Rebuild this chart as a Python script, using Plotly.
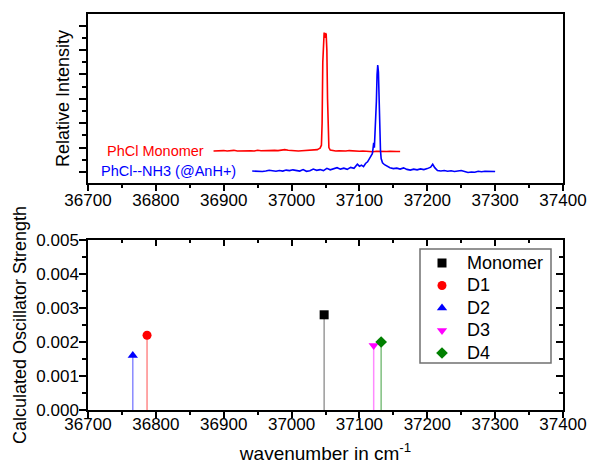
import plotly.graph_objects as go

# --- верхняя панель: спектры ---
red_x = [36885, 36890, 36895, 36900, 36905, 36910, 36915, 36920, 36925, 36930,
         36935, 36940, 36945, 36950, 36955, 36960, 36965, 36970, 36975, 36980,
         36985, 36990, 36995, 37000, 37005, 37010, 37015, 37020, 37025, 37030,
         37035, 37038, 37040, 37042, 37044, 37045, 37046, 37047, 37048, 37049,
         37050, 37051, 37052, 37053, 37054, 37055, 37057, 37060, 37065, 37070,
         37075, 37080, 37085, 37090, 37095, 37100, 37105, 37110, 37115, 37120,
         37125, 37130, 37135, 37140, 37145, 37150, 37155, 37160]
red_y = [0.86, 0.87, 0.85, 0.88, 0.86, 0.87, 0.89, 0.86, 0.87, 0.85,
         0.88, 0.87, 0.86, 0.89, 0.87, 0.88, 0.86, 0.87, 0.89, 0.88,
         0.90, 0.92, 0.89, 0.87, 0.88, 0.86, 0.87, 0.88, 0.87, 0.89,
         0.90, 0.92, 0.95, 0.98, 1.1, 2.0, 4.5, 5.6, 5.72, 5.5,
         5.7, 5.65, 5.0, 3.0, 1.5, 1.0, 0.9, 0.88, 0.86, 0.87,
         0.85, 0.86, 0.88, 0.86, 0.87, 0.85, 0.86, 0.84, 0.85, 0.83,
         0.85, 0.84, 0.83, 0.84, 0.85, 0.83, 0.84, 0.84]

blue_x = [36942, 36947, 36952, 36957, 36962, 36967, 36972, 36977, 36982, 36987,
          36992, 36997, 37002, 37007, 37012, 37017, 37022, 37027, 37032, 37037,
          37042, 37047, 37052, 37057, 37062, 37067, 37072, 37077, 37082, 37087,
          37092, 37097, 37100, 37103, 37106, 37109, 37112, 37115, 37117, 37119,
          37120, 37121, 37122, 37123, 37124, 37125, 37126, 37127, 37128, 37129,
          37130, 37131, 37132, 37134, 37137, 37140, 37145, 37150, 37155, 37160,
          37165, 37170, 37175, 37180, 37185, 37190, 37195, 37200, 37205, 37208,
          37211, 37215, 37220, 37225, 37230, 37235, 37240, 37245, 37250, 37255,
          37260, 37265, 37270, 37275, 37280, 37285, 37290, 37295, 37300]
blue_y = [0.04, 0.03, 0.05, 0.02, 0.04, 0.07, 0.05, 0.03, 0.06, 0.04,
          0.08, 0.06, 0.09, 0.06, 0.04, 0.10, 0.03, 0.05, 0.12, 0.07,
          0.10, 0.06, 0.15, 0.09, 0.13, 0.18, 0.12, 0.16, 0.11, 0.19,
          0.15, 0.32, 0.24, 0.28, 0.22, 0.35, 0.42, 0.55, 0.62, 0.75,
          0.95, 1.2, 1.0, 1.5, 2.2, 2.9, 4.0, 4.39, 4.1, 2.8,
          1.6, 0.9, 0.55, 0.38, 0.30, 0.25, 0.18, 0.14, 0.16, 0.12,
          0.17, 0.11, 0.08, 0.12, 0.09, 0.13, 0.10, 0.14, 0.20, 0.32,
          0.18, 0.06, 0.04, 0.06, 0.03, 0.05, 0.02, 0.04, 0.06, 0.02,
          -0.02, 0.00, -0.01, 0.03, 0.01, 0.03, 0.02, 0.03, 0.02]

# --- нижняя панель: расчётные силы осцилляторов ---
calc_names = ['Monomer', 'D1', 'D2', 'D3', 'D4']
calc_x = [37048, 36787, 36766, 37121, 37132]
calc_f = [0.0028, 0.0022, 0.0016, 0.0019, 0.0020]
calc_colors = ['black', '#ff0000', '#0000ff', '#ff00ff', '#008000']
stem_colors = ['#9a9a9a', '#ff8a8a', '#8a8aff', '#ff8aff', '#7fbf7f']
calc_symbols = ['square', 'circle', 'triangle-up', 'triangle-down', 'diamond']

FONT = 'Liberation Sans, Arial, sans-serif'

# легенда рисуется вручную (в пикселях области графика)
LEG_X0, LEG_X1, LEG_Y0, LEG_Y1 = 420, 551, 249, 363
LEG_MARK_X, LEG_TEXT_X, LEG_ROW0, LEG_STEP = 442, 465, 263, 22.5

fig = go.Figure()

fig.add_trace(go.Scatter(x=red_x, y=red_y, mode='lines', showlegend=False,
                         line=dict(color='#ff0000', width=1.6), xaxis='x', yaxis='y'))
fig.add_trace(go.Scatter(x=blue_x, y=blue_y, mode='lines', showlegend=False,
                         line=dict(color='#0000ff', width=1.6), xaxis='x', yaxis='y'))

# стебли
for xv, fv, sc in zip(calc_x, calc_f, stem_colors):
    fig.add_trace(go.Scatter(x=[xv, xv], y=[0, fv], mode='lines', showlegend=False,
                             line=dict(color=sc, width=1.5), hoverinfo='skip',
                             xaxis='x2', yaxis='y2'))
# маркеры
for name, xv, fv, c, s in zip(calc_names, calc_x, calc_f, calc_colors, calc_symbols):
    fig.add_trace(go.Scatter(x=[xv], y=[fv], mode='markers', name=name, showlegend=False,
                             marker=dict(color=c, symbol=s, size=9),
                             xaxis='x2', yaxis='y2'))

# зеркальные оси (тики внутрь)
fig.add_trace(go.Scatter(x=[None], y=[None], showlegend=False, hoverinfo='skip',
                         xaxis='x3', yaxis='y3'))

# легенда: маркеры
leg_rows = [LEG_ROW0 + LEG_STEP * i for i in range(len(calc_names))]
fig.add_trace(go.Scatter(x=[LEG_MARK_X] * len(calc_names), y=leg_rows, mode='markers',
                         showlegend=False, hoverinfo='skip',
                         marker=dict(color=calc_colors, symbol=calc_symbols, size=9),
                         xaxis='x4', yaxis='y4'))

axis_common = dict(showline=True, linecolor='black', linewidth=1.5, automargin=False,
                   tickcolor='black', tickwidth=1.5, showgrid=False, zeroline=False,
                   tickfont=dict(size=17, color='black'))

annotations = [
    dict(text='PhCl Monomer', x=36874, y=0.87, xref='x', yref='y',
         xanchor='right', yanchor='middle', showarrow=False,
         font=dict(size=14.5, color='#ff0000')),
    dict(text='PhCl--NH3 (@AnH+)', x=36921, y=0.04, xref='x', yref='y',
         xanchor='right', yanchor='middle', showarrow=False,
         font=dict(size=14.5, color='#0000ff')),
]
for name, yy in zip(calc_names, leg_rows):
    annotations.append(dict(text=name, x=LEG_TEXT_X, y=yy, xref='x4', yref='y4',
                            xanchor='left', yanchor='middle', showarrow=False,
                            font=dict(size=18, color='black')))

fig.update_layout(
    width=590, height=464,
    margin=dict(l=88, r=27, t=14, b=54),
    paper_bgcolor='white', plot_bgcolor='white',
    font=dict(family=FONT, color='black'),
    showlegend=False,
    xaxis=dict(domain=[0, 1], anchor='y', range=[36700, 37400], dtick=100,
               tickformat='d', ticks='outside', ticklen=6, mirror=True,
               ticklabelstandoff=-5,
               minor=dict(dtick=50, ticks='outside', ticklen=3, tickcolor='black'),
               **axis_common),
    yaxis=dict(domain=[0.5732, 1], anchor='x', range=[-0.45, 6.48], dtick=1,
               tick0=0, ticks='outside', ticklen=7, mirror=True, showticklabels=False,
               minor=dict(dtick=0.5, ticks='outside', ticklen=4, tickcolor='black'),
               title=dict(text='Relative Intensity', font=dict(size=18), standoff=5),
               **axis_common),
    xaxis2=dict(domain=[0, 1], anchor='y2', range=[36700, 37400], dtick=100,
                tickformat='d', ticks='outside', ticklen=6, mirror=True,
                ticklabelstandoff=-8,
                minor=dict(dtick=50, ticks='outside', ticklen=3, tickcolor='black'),
                title=dict(text='wavenumber in cm<sup>-1</sup>', font=dict(size=19),
                           standoff=16),
                **axis_common),
    yaxis2=dict(domain=[0, 0.4293], anchor='x2', range=[0, 0.005], dtick=0.001,
                tickformat='.3f', ticks='outside', ticklen=7, mirror=True,
                ticklabelstandoff=-3,
                minor=dict(dtick=0.0005, ticks='outside', ticklen=4, tickcolor='black'),
                title=dict(text='Calculated Oscillator Strength', font=dict(size=18),
                           standoff=5),
                **axis_common),
    xaxis3=dict(overlaying='x2', matches='x2', anchor='y3', side='top',
                range=[36700, 37400], dtick=100, ticks='inside', ticklen=6,
                tickcolor='black', tickwidth=1.5, showticklabels=False, automargin=False,
                showline=False, showgrid=False, zeroline=False,
                minor=dict(dtick=50, ticks='inside', ticklen=3, tickcolor='black')),
    yaxis3=dict(overlaying='y2', anchor='x3', side='right', range=[0, 0.005],
                dtick=0.001, ticks='inside', ticklen=7, tickcolor='black',
                tickwidth=1.5, showticklabels=False, showline=False, automargin=False,
                showgrid=False, zeroline=False,
                minor=dict(dtick=0.0005, ticks='inside', ticklen=4, tickcolor='black')),
    xaxis4=dict(overlaying='x2', anchor='y4', range=[88, 563], visible=False,
                automargin=False),
    yaxis4=dict(overlaying='y2', anchor='x4', range=[410, 240], visible=False,
                automargin=False),
    shapes=[dict(type='rect', xref='x4', yref='y4', x0=LEG_X0, x1=LEG_X1,
                 y0=LEG_Y0, y1=LEG_Y1, line=dict(color='#707070', width=1.5),
                 fillcolor='rgba(0,0,0,0)', layer='below')],
    annotations=annotations,
)

# убрать отступ body, чтобы график стоял ровно в окне
fig.write_html('out.html', config={'displayModeBar': False},
               post_script="document.body.style.margin='0';document.body.style.padding='0';")
